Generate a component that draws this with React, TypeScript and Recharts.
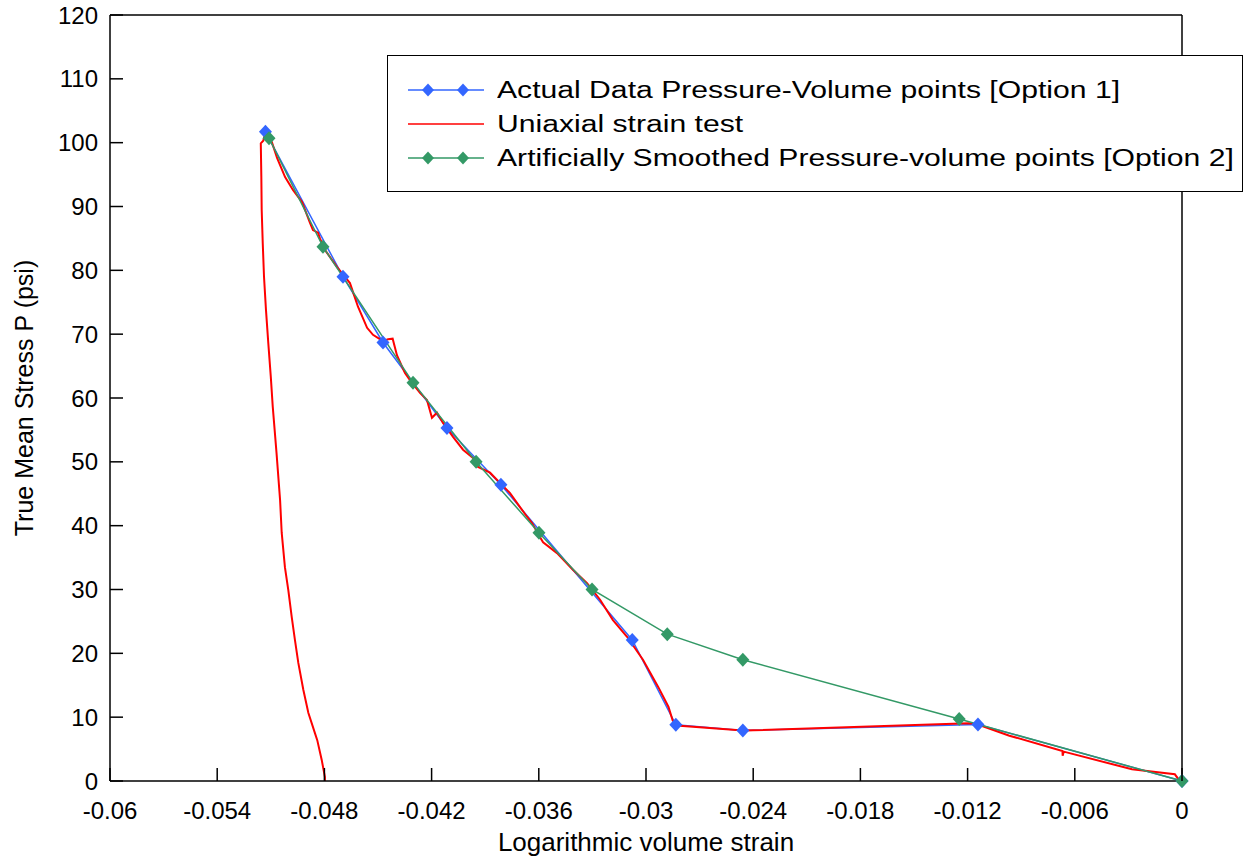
import React from 'react';
import { LineChart, Line, XAxis, YAxis, Legend } from 'recharts';

// Actual Data Pressure-Volume points [Option 1]
const actualStrain = [-0.0513, -0.04696, -0.04472, -0.04114, -0.03812, -0.03077, -0.02833, -0.02458, -0.01142, 0];
const actualStress = [101.7, 79.0, 68.7, 55.3, 46.4, 22.1, 8.8, 7.9, 8.85, 0];

// Artificially Smoothed Pressure-volume points [Option 2]
const smoothStrain = [-0.0511, -0.04808, -0.04304, -0.03951, -0.03599, -0.03302, -0.02881, -0.02458, -0.01247, 0];
const smoothStress = [100.7, 83.7, 62.4, 50.0, 38.9, 30.0, 23.0, 19.0, 9.7, 0];

// Uniaxial strain test (unloading branch up, loading branch down)
const testStrain = [
    -0.04797, -0.04797, -0.04815, -0.0484, -0.04853, -0.0489, -0.04918, -0.04946, -0.04965, -0.04983,
    -0.05002, -0.05021, -0.05039, -0.05048, -0.05068, -0.05089, -0.051, -0.05114, -0.05127, -0.05138,
    -0.05145, -0.05151, -0.05153, -0.05156, -0.05142, -0.05127, -0.05093, -0.05065, -0.0502, -0.04976,
    -0.04925, -0.0488, -0.04864, -0.04836, -0.04825, -0.04797, -0.04729, -0.04657, -0.04612, -0.04561,
    -0.04528, -0.04472, -0.04444, -0.04418, -0.04394, -0.04349, -0.04321, -0.04265, -0.04226, -0.04198,
    -0.0417, -0.04136, -0.0408, -0.04024, -0.03968, -0.0394, -0.03873, -0.03817, -0.03761, -0.03705,
    -0.03666, -0.03638, -0.03593, -0.03576, -0.03498, -0.03409, -0.0333, -0.03257, -0.03185, -0.03106,
    -0.03017, -0.02931, -0.02874, -0.02851, -0.02829, -0.02458, -0.01194, -0.01142, -0.00966, -0.00669,
    -0.00668, -0.00662, -0.0028, -0.0004, -0.00023, 0
];
const testStress = [
    0, 0.6, 3.3, 6.4, 7.5, 10.7, 14.3, 18.5, 22.1, 25.7,
    29.9, 33.5, 38.9, 44.0, 51.4, 58.6, 63.3, 68.6, 73.8, 79.0,
    84.2, 89.5, 94.7, 99.9, 100.3, 102.0, 100.0, 97.6, 94.6, 92.6,
    90.7, 87.4, 86.3, 85.9, 85.0, 83.2, 80.5, 78.0, 74.3, 71.0,
    69.9, 68.9, 69.2, 69.3, 66.7, 63.9, 62.8, 60.8, 59.7, 56.9,
    57.7, 56.1, 53.9, 51.9, 50.6, 49.2, 48.3, 46.7, 45.1, 42.9,
    41.4, 40.4, 38.2, 37.4, 35.7, 33.1, 31.0, 28.4, 25.2, 22.6,
    19.0, 14.7, 11.6, 9.5, 8.7, 7.9, 9.05, 8.84, 7.1, 4.7,
    3.95, 4.6, 1.84, 1.05, 0.4, 0
];

const xTicks = [-0.06, -0.054, -0.048, -0.042, -0.036, -0.03, -0.024, -0.018, -0.012, -0.006, 0];
const xTickLabels = ['-0.06', '-0.054', '-0.048', '-0.042', '-0.036', '-0.03', '-0.024', '-0.018', '-0.012', '-0.006', '0'];
const yTicks = [0, 10, 20, 30, 40, 50, 60, 70, 80, 90, 100, 110, 120];
const yTickLabels = ['0', '10', '20', '30', '40', '50', '60', '70', '80', '90', '100', '110', '120'];

const NAME_ACTUAL = 'Actual Data Pressure-Volume points [Option 1]';
const NAME_TEST = 'Uniaxial strain test';
const NAME_SMOOTH = 'Artificially Smoothed Pressure-volume points [Option 2]';
const legendOrder = [NAME_ACTUAL, NAME_TEST, NAME_SMOOTH];
const withMarkers = [NAME_ACTUAL, NAME_SMOOTH];

const BLUE = '#3366ff';
const RED = '#ff0000';
const GREEN = '#339966';
const FONT = '"Liberation Sans", Arial, sans-serif';

const zip = (xs: number[], ys: number[]) => xs.map((v, i) => ({ v, p: ys[i] }));
const actualData = zip(actualStrain, actualStress);
const smoothData = zip(smoothStrain, smoothStress);
const testData = zip(testStrain, testStress);

const diamondPath = (cx: number, cy: number, rx: number, ry: number) =>
    `M${cx},${cy - ry}L${cx + rx},${cy}L${cx},${cy + ry}L${cx - rx},${cy}Z`;

const diamondDot = (color: string) => (props: any) => {
    const { cx, cy, index } = props;
    if (cx == null || cy == null) return <g key={`e-${index}`} />;
    return <path key={`d-${index}`} d={diamondPath(cx, cy, 6.5, 7)} fill={color} />;
};

const TICK_LEN = 13;

// ticks point inward on all four sides, like the original plot frame
const LeftTick = (props: any) => {
    const { x, y, index } = props;
    return (
        <g>
            <line x1={x + 12} x2={x + 12 + TICK_LEN} y1={y} y2={y} stroke="#000" strokeWidth={1.5} />
            <text x={x} y={y} dy="0.355em" textAnchor="end" fontSize={24} fontFamily={FONT} fill="#000">
                {yTickLabels[index]}
            </text>
        </g>
    );
};

const BottomTick = (props: any) => {
    const { x, y, index } = props;
    return (
        <g>
            <line x1={x} x2={x} y1={y - 21} y2={y - 21 - TICK_LEN} stroke="#000" strokeWidth={1.5} />
            <text x={x} y={y} dy="0.71em" textAnchor="middle" fontSize={24} fontFamily={FONT} fill="#000">
                {xTickLabels[index]}
            </text>
        </g>
    );
};

const RightTick = (props: any) => {
    const { x, y } = props;
    return <line x1={x} x2={x - TICK_LEN} y1={y} y2={y} stroke="#000" strokeWidth={1.5} />;
};

const TopTick = (props: any) => {
    const { x, y } = props;
    return <line x1={x} x2={x} y1={y} y2={y + TICK_LEN} stroke="#000" strokeWidth={1.5} />;
};

const renderLegend = (props: any) => {
    const payload: any[] = props.payload ?? [];
    const entries = legendOrder
        .map(n => payload.find(p => p.value === n))
        .filter(Boolean);
    return (
        <div
            style={{
                border: '1.5px solid #000',
                background: '#fff',
                width: 856,
                height: 137,
                boxSizing: 'border-box',
                paddingTop: 17,
                fontFamily: FONT,
            }}
        >
            {entries.map((entry: any) => (
                <div key={entry.value} style={{ display: 'flex', alignItems: 'center', height: 34 }}>
                    <svg width={76} height={20} style={{ marginLeft: 20, flex: 'none' }}>
                        <line x1={0} y1={10} x2={76} y2={10} stroke={entry.color} strokeWidth={1.5} />
                        {withMarkers.includes(entry.value) &&
                            [20, 55].map(cx => (
                                <path key={cx} d={diamondPath(cx, 10, 6, 6.5)} fill={entry.color} />
                            ))}
                    </svg>
                    <span
                        style={{
                            marginLeft: 13,
                            fontSize: 23,
                            color: '#000',
                            display: 'inline-block',
                            whiteSpace: 'nowrap',
                            transform: 'scaleX(1.31)',
                            transformOrigin: 'left center',
                        }}
                    >
                        {entry.value}
                    </span>
                </div>
            ))}
        </div>
    );
};

const axisLine = { stroke: '#000', strokeWidth: 1.5 };

export default function App() {
    return (
        <div style={{ position: 'absolute', left: 0, top: 0, width: 1246, height: 857, background: '#fff', fontFamily: FONT }}>
            <LineChart width={1246} height={857} margin={{ top: 14, right: 63, left: 0, bottom: 0 }}>
                <XAxis
                    xAxisId="b"
                    type="number"
                    dataKey="v"
                    domain={[-0.06, 0]}
                    ticks={xTicks}
                    interval={0}
                    height={76}
                    tickSize={0}
                    tickMargin={21}
                    tickLine={false}
                    axisLine={axisLine}
                    tick={BottomTick}
                    label={{
                        value: 'Logarithmic volume strain',
                        position: 'insideBottom',
                        offset: 6,
                        style: { fontSize: 26, fill: '#000', fontFamily: FONT },
                    }}
                />
                <XAxis
                    xAxisId="t"
                    orientation="top"
                    type="number"
                    dataKey="v"
                    domain={[-0.06, 0]}
                    ticks={xTicks}
                    interval={0}
                    height={1}
                    tickSize={0}
                    tickMargin={0}
                    tickLine={false}
                    axisLine={axisLine}
                    tick={TopTick}
                />
                <YAxis
                    yAxisId="l"
                    type="number"
                    domain={[0, 120]}
                    ticks={yTicks}
                    interval={0}
                    width={110}
                    tickSize={0}
                    tickMargin={12}
                    tickLine={false}
                    axisLine={axisLine}
                    tick={LeftTick}
                    label={{
                        value: 'True Mean Stress P (psi)',
                        angle: -90,
                        position: 'insideLeft',
                        offset: 24,
                        style: { textAnchor: 'middle', fontSize: 25, fill: '#000', fontFamily: FONT },
                    }}
                />
                <YAxis
                    yAxisId="r"
                    orientation="right"
                    type="number"
                    domain={[0, 120]}
                    ticks={yTicks}
                    interval={0}
                    width={1}
                    tickSize={0}
                    tickMargin={0}
                    tickLine={false}
                    axisLine={axisLine}
                    tick={RightTick}
                />
                <Legend
                    layout="vertical"
                    align="center"
                    verticalAlign="middle"
                    content={renderLegend}
                    wrapperStyle={{ left: 387, top: 55, width: 856, height: 137 }}
                />
                <Line
                    xAxisId="b"
                    yAxisId="l"
                    data={actualData}
                    dataKey="p"
                    name={NAME_ACTUAL}
                    type="linear"
                    stroke={BLUE}
                    strokeWidth={1.5}
                    dot={diamondDot(BLUE)}
                    activeDot={false}
                    isAnimationActive={false}
                />
                <Line
                    xAxisId="b"
                    yAxisId="l"
                    data={testData}
                    dataKey="p"
                    name={NAME_TEST}
                    type="linear"
                    stroke={RED}
                    strokeWidth={2}
                    dot={false}
                    activeDot={false}
                    isAnimationActive={false}
                />
                <Line
                    xAxisId="b"
                    yAxisId="l"
                    data={smoothData}
                    dataKey="p"
                    name={NAME_SMOOTH}
                    type="linear"
                    stroke={GREEN}
                    strokeWidth={1.5}
                    dot={diamondDot(GREEN)}
                    activeDot={false}
                    isAnimationActive={false}
                />
            </LineChart>
        </div>
    );
}
